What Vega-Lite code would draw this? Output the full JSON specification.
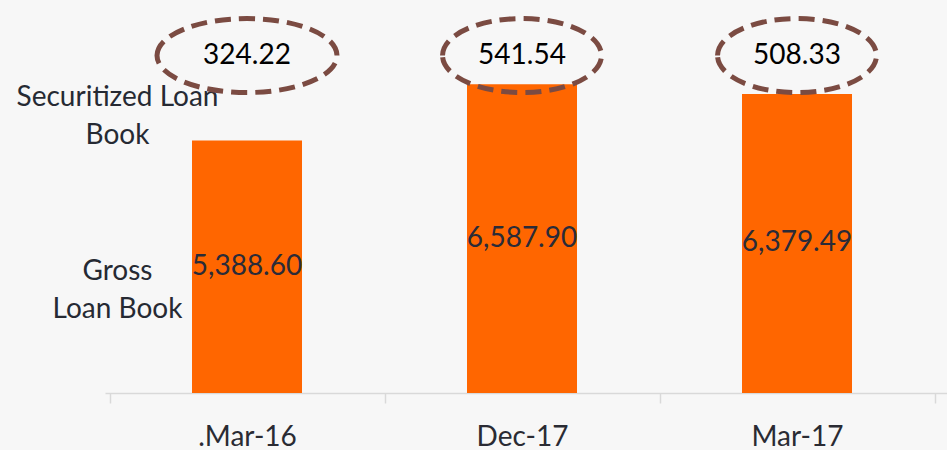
{
  "$schema": "https://vega.github.io/schema/vega-lite/v6.json",
  "width": 842,
  "height": 393,
  "autosize": "none",
  "padding": {"left": 105, "top": 0, "right": 0, "bottom": 57},
  "background": "#f7f7f7",
  "config": {"view": {"stroke": null}, "font": "Lato"},
  "data": {"values": [
    {"period": ".Mar-16", "gross": 5388.60, "securitized": 324.22},
    {"period": "Dec-17", "gross": 6587.90, "securitized": 541.54},
    {"period": "Mar-17", "gross": 6379.49, "securitized": 508.33}
  ]},
  "encoding": {
    "x": {"field": "period", "type": "nominal", "sort": null,
      "scale": {"paddingInner": 0, "paddingOuter": 0.0309, "align": 0.265},
      "axis": {"title": null, "labelAngle": 0, "labelFont": "Lato", "labelFontSize": 28, "labelColor": "#2a2b33",
        "domainColor": "#d9d9d9", "domainWidth": 1.5, "tickColor": "#d9d9d9", "tickWidth": 1.5, "tickSize": 10,
        "tickBand": "extent", "labelPadding": 20}}
  },
  "layer": [
    {"mark": {"type": "bar", "color": "#ff6600", "width": {"band": 0.4}},
     "encoding": {"y": {"field": "gross", "type": "quantitative", "scale": {"domain": [0, 8385], "nice": false},
       "axis": {"title": null, "values": [2582, 6315], "grid": false, "domain": false, "ticks": false,
         "labelAlign": "center", "labelBaseline": "middle", "labelPadding": -12, "labelFont": "Lato", "labelFontSize": 28,
         "labelColor": "#262a33", "labelLineHeight": 38, "labelOverlap": false, "labelLimit": 0,
         "labelExpr": "datum.value > 4000 ? ['Securitized Loan', 'Book'] : ['Gross', 'Loan Book']"}}}},
    {"mark": {"type": "text", "font": "Lato", "fontSize": 28, "color": "#2a2b38", "baseline": "middle"},
     "encoding": {"y": {"field": "gross", "type": "quantitative", "scale": {"domain": [0, 16770], "nice": false}, "axis": null},
       "text": {"field": "gross", "type": "quantitative", "format": ",.2f"}}},
    {"mark": {"type": "point", "filled": false, "stroke": "#7b4b42", "strokeWidth": 5, "strokeDash": [16, 8], "size": 32400, "opacity": 1},
     "encoding": {"y": {"datum": 7200, "type": "quantitative", "scale": {"domain": [0, 8385], "nice": false}, "axis": null},
       "shape": {"field": "period", "type": "nominal",
         "scale": {"domain": [".Mar-16", "Dec-17", "Mar-17"],
           "range": [
             "M-1,0C-1,-0.227,-0.5523,-0.411,0,-0.411C0.5523,-0.411,1,-0.227,1,0C1,0.227,0.5523,0.411,0,0.411C-0.5523,0.411,-1,0.227,-1,0Z",
             "M-0.883,0C-0.883,-0.227,-0.4877,-0.411,0,-0.411C0.4877,-0.411,0.883,-0.227,0.883,0C0.883,0.227,0.4877,0.411,0,0.411C-0.4877,0.411,-0.883,0.227,-0.883,0Z",
             "M-0.883,0C-0.883,-0.227,-0.4877,-0.411,0,-0.411C0.4877,-0.411,0.883,-0.227,0.883,0C0.883,0.227,0.4877,0.411,0,0.411C-0.4877,0.411,-0.883,0.227,-0.883,0Z"
           ]}, "legend": null}}},
    {"mark": {"type": "text", "font": "Lato", "fontSize": 28, "color": "#000000", "baseline": "middle"},
     "encoding": {"y": {"datum": 7200, "type": "quantitative", "scale": {"domain": [0, 8385], "nice": false}, "axis": null},
       "text": {"field": "securitized", "type": "quantitative", "format": ".2f"}}}
  ],
  "resolve": {"scale": {"y": "independent"}}
}
